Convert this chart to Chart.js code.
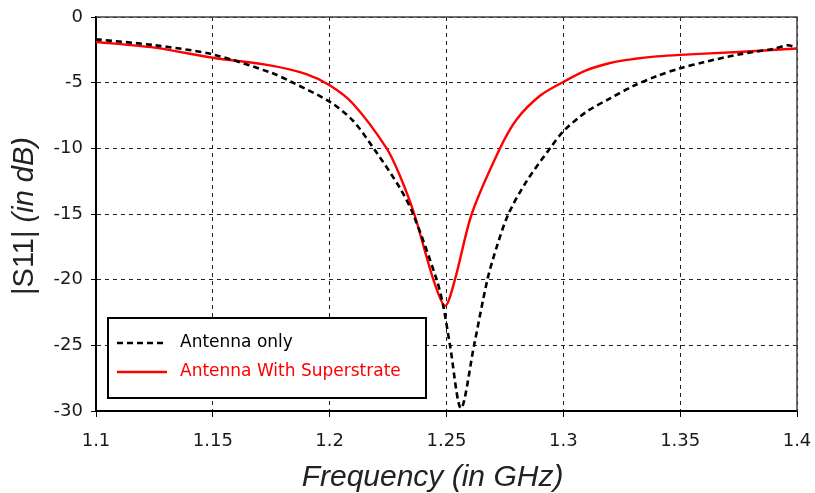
<!DOCTYPE html>
<html>
<head>
<meta charset="utf-8">
<script src="https://cdn.jsdelivr.net/npm/chart.js@4"></script>
<style>
  html, body { margin: 0; padding: 0; background: #fff; }
  #chart { display: block; }
</style>
</head>
<body>
<canvas id="chart" width="815" height="493"></canvas>
<script>
// Antenna only (dashed black)
const antennaFreq = [1.100, 1.125, 1.150, 1.175, 1.1837, 1.200, 1.210, 1.220, 1.230, 1.2357,
  1.2458, 1.2486, 1.2515, 1.2562, 1.2618, 1.2675, 1.2715, 1.2765, 1.2843, 1.2943,
  1.300, 1.310, 1.320, 1.330, 1.340, 1.350, 1.360, 1.375, 1.390, 1.396, 1.400];
const antennaS11 = [-1.7, -2.15, -2.85, -4.25, -4.95, -6.45, -7.9, -10.3, -13.0, -15.0,
  -20.0, -22.0, -25.0, -29.8, -25.0, -20.0, -17.5, -15.0, -12.5, -10.0,
  -8.7, -7.2, -6.2, -5.25, -4.5, -3.9, -3.45, -2.85, -2.42, -2.15, -2.35];

// Antenna with superstrate (solid red)
const superFreq = [1.100, 1.125, 1.150, 1.175, 1.190, 1.200, 1.210, 1.2244, 1.2301, 1.2362,
  1.2444, 1.2494, 1.2536, 1.2608, 1.2729, 1.280, 1.290, 1.300, 1.310, 1.320,
  1.330, 1.340, 1.350, 1.375, 1.400];
const superS11 = [-1.9, -2.33, -3.1, -3.7, -4.35, -5.2, -6.6, -10.0, -12.1, -15.0,
  -20.0, -22.0, -20.0, -15.0, -10.0, -7.8, -6.0, -4.95, -4.05, -3.5,
  -3.2, -3.0, -2.88, -2.66, -2.4];

const seriesLabels = ['Antenna only', 'Antenna With Superstrate'];
const xTickLabels = ['1.1', '1.15', '1.2', '1.25', '1.3', '1.35', '1.4'];
const yTickLabels = ['-30', '-25', '-20', '-15', '-10', '-5', '0'];
const xTitle = 'Frequency (in GHz)';
const yTitleA = '|S11| ';
const yTitleB = '(in dB)';

const toPoints = (xs, ys) => xs.map((x, i) => ({ x: x, y: ys[i] }));

// frame on top/right, boxed legend inside the plot, axis titles
const framePlugin = {
    id: 'frame',
    afterDatasetsDraw(chart) {
        const { ctx, chartArea: a } = chart;
        ctx.save();
        ctx.strokeStyle = '#444';
        ctx.lineWidth = 1.5;
        ctx.beginPath();
        ctx.moveTo(a.left, a.top);
        ctx.lineTo(a.right, a.top);
        ctx.lineTo(a.right, a.bottom);
        ctx.stroke();
        ctx.restore();
    },
    afterDraw(chart) {
        const { ctx, chartArea: a } = chart;
        const bx = a.left + 12, by = a.bottom - 93, bw = 318, bh = 80;
        ctx.save();
        ctx.fillStyle = '#fff';
        ctx.fillRect(bx, by, bw, bh);
        ctx.strokeStyle = '#000';
        ctx.lineWidth = 2;
        ctx.strokeRect(bx, by, bw, bh);

        ctx.font = '17px "DejaVu Sans"';
        ctx.textBaseline = 'middle';
        chart.data.datasets.forEach((ds, i) => {
            const ly = by + 25 + i * 29;
            ctx.strokeStyle = ds.borderColor;
            ctx.lineWidth = ds.borderWidth;
            ctx.setLineDash(ds.borderDash || []);
            ctx.beginPath();
            ctx.moveTo(bx + 9, ly);
            ctx.lineTo(bx + 59, ly);
            ctx.stroke();
            ctx.setLineDash([]);
            ctx.fillStyle = ds.borderColor;
            ctx.fillText(ds.label, bx + 72, ly);
        });

        // x axis title
        ctx.fillStyle = '#222';
        ctx.textAlign = 'center';
        ctx.font = 'italic 30px "Liberation Sans"';
        ctx.fillText(xTitle, (a.left + a.right) / 2 - 14, 478);

        // y axis title: upright |S11| then italic (in dB)
        ctx.translate(25, (a.top + a.bottom) / 2 + 2);
        ctx.rotate(-Math.PI / 2);
        ctx.font = '29px "Liberation Sans"';
        const wA = ctx.measureText(yTitleA).width;
        ctx.font = 'italic 29px "Liberation Sans"';
        const wB = ctx.measureText(yTitleB).width;
        const x0 = -(wA + wB) / 2;
        ctx.textAlign = 'left';
        ctx.font = '29px "Liberation Sans"';
        ctx.fillText(yTitleA, x0, 0);
        ctx.font = 'italic 29px "Liberation Sans"';
        ctx.fillText(yTitleB, x0 + wA, 0);
        ctx.restore();
    }
};

new Chart(document.getElementById('chart').getContext('2d'), {
    type: 'line',
    data: {
        datasets: [
            {
                label: seriesLabels[0],
                data: toPoints(antennaFreq, antennaS11),
                borderColor: '#000000',
                borderWidth: 2.6,
                borderDash: [6, 4],
                pointRadius: 0,
                tension: 0.3,
                fill: false
            },
            {
                label: seriesLabels[1],
                data: toPoints(superFreq, superS11),
                borderColor: '#ff0000',
                borderWidth: 2.4,
                pointRadius: 0,
                tension: 0.3,
                fill: false
            }
        ]
    },
    options: {
        responsive: false,
        animation: false,
        devicePixelRatio: 1,
        layout: { padding: { top: 17, right: 18, left: 0, bottom: 0 } },
        plugins: {
            legend: { display: false },
            tooltip: { enabled: false }
        },
        scales: {
            x: {
                type: 'linear',
                min: 1.1,
                max: 1.4,
                afterFit(scale) {
                    scale.height = 82;
                    scale.paddingLeft = 0;
                    scale.paddingRight = 0;
                },
                afterBuildTicks(scale) {
                    scale.ticks = xTickLabels.map(t => ({ value: parseFloat(t) }));
                },
                ticks: {
                    color: '#1a1a1a',
                    font: { family: 'DejaVu Sans', size: 18 },
                    padding: 14,
                    maxRotation: 0,
                    autoSkip: false,
                    callback: (v, i) => xTickLabels[i]
                },
                grid: { color: '#222', lineWidth: 1, tickLength: 6, tickColor: '#000' },
                border: { display: true, color: '#000', width: 2, dash: [4, 4] }
            },
            y: {
                min: -30,
                max: 0,
                afterFit(scale) {
                    scale.width = 96;
                    scale.paddingTop = 0;
                    scale.paddingBottom = 0;
                },
                afterBuildTicks(scale) {
                    scale.ticks = yTickLabels.map(t => ({ value: parseFloat(t) }));
                },
                ticks: {
                    color: '#1a1a1a',
                    font: { family: 'DejaVu Sans', size: 18 },
                    padding: 8,
                    autoSkip: false,
                    callback: (v, i) => yTickLabels[i]
                },
                grid: { color: '#222', lineWidth: 1, tickLength: 5, tickColor: '#000' },
                border: { display: true, color: '#000', width: 2, dash: [4, 4] }
            }
        }
    },
    plugins: [framePlugin]
});
</script>
</body>
</html>
